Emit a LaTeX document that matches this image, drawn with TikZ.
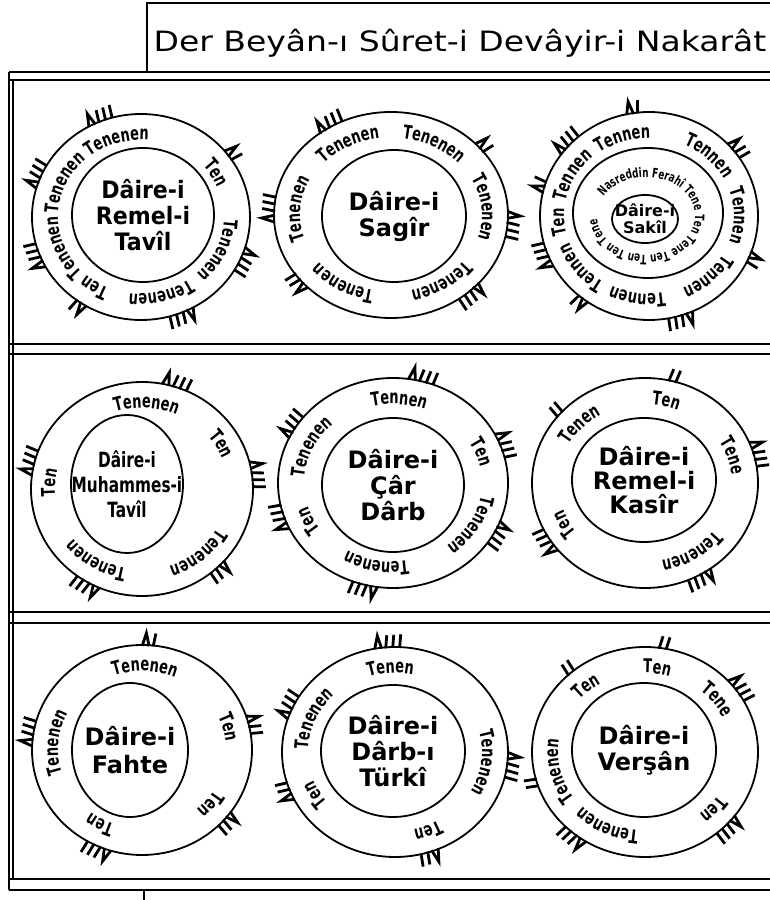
\documentclass[tikz,border=0pt]{standalone}
\usepackage{fontspec}
\setmainfont{DejaVu Sans}
\newfontfamily\halkafont{DejaVu Sans Bold}[FakeStretch=0.68]
\usetikzlibrary{decorations.text}

\newcommand{\halkayazi}{\halkafont\fontsize{19}{21}\selectfont}
% word on the ring, centred at angle #5 (cx, cy, rx, ry, angle, word)
\newcommand{\halka}[6]{%
  \path[decorate, decoration={text along path, text align=center, text={|\halkayazi|#6}}]
    ({#1+#3*cos(#5+45)},{#2+#4*sin(#5+45)}) arc[start angle={#5+45}, end angle={#5-45}, x radius=#3, y radius=#4];}
% stroke group outside the circle (cx, cy, rx, ry, angle, lambda 0/1, lines)
\newcommand{\usul}[7]{%
  \begin{scope}[shift={({#1+#3*cos(#5)},{#2+#4*sin(#5)})}, rotate={#5-90}]
    \pgfmathsetmacro{\bas}{-(#6*11+(#7-1)*7)/2}
    \ifnum#6=1
      \draw[vurus, line join=miter] (\bas,-1) -- ({\bas+3.5},12) -- ({\bas+7},-1);
      \pgfmathsetmacro{\bas}{\bas+11}
    \fi
    \foreach \i in {1,...,#7}
      \draw[vurus] ({\bas+(\i-1)*7},-1) -- ({\bas+(\i-1)*7+2},12);
  \end{scope}}

\begin{document}
\begin{tikzpicture}[x=1pt, y=1pt,
  cerceve/.style={line width=1.8pt},
  daire/.style={line width=1.8pt},
  vurus/.style={line width=2.8pt},
  ad/.style={align=center, inner sep=0pt, font=\bfseries\fontsize{24}{26}\selectfont}]
\useasboundingbox (0,0) rectangle (770,900);

% 1. frame and title
\draw[cerceve] (147,828) -- (147,897) -- (770,897);
\foreach \y in {828,820,556,546,288,277,21,10}
  \draw[cerceve] (9,\y) -- (770,\y);
\draw[cerceve] (9,828) -- (9,10);
\draw[cerceve] (13,820) -- (13,21);
\draw[cerceve] (144,10) -- (144,0);
\node[anchor=base, xscale=1.18, font=\fontsize{28}{30}\selectfont] (baslik) at (460,848) {Der Beyân-ı Sûret-i Devâyir-i Nakarât};

% 2. Dâire-i Remel-i Tavîl
\draw[daire] (141,683) ellipse[x radius=109, y radius=103];
\draw[daire] (143,685) ellipse[x radius=71, y radius=67];
\node[ad, xscale=0.92] (remeltavil) at (143,685) {Dâire-i\\Remel-i\\Tavîl};
\halka{141}{683}{83}{77}{237}{Ten}
\halka{141}{683}{83}{77}{202}{Tenenen}
\halka{141}{683}{83}{77}{155}{Tenenen}
\halka{141}{683}{83}{77}{107}{Tenenen}
\halka{141}{683}{83}{77}{31}{Ten}
\halka{141}{683}{83}{77}{336}{Tenenen}
\halka{141}{683}{83}{77}{284}{Tenenen}
\foreach \a/\l/\n in {112/1/3, 37/1/1, 157/1/3, 202/1/3, 237/1/1, 292/1/3, 336/1/3}
  \usul{141}{683}{109}{103}{\a}{\l}{\n};

% 3. Dâire-i Sagîr
\draw[daire] (391,685) ellipse[x radius=117, y radius=103];
\draw[daire] (394,684) ellipse[x radius=72, y radius=66];
\node[ad] (sagir) at (394,684) {Dâire-i\\Sagîr};
\halka{391}{685}{91}{77}{176}{Tenenen}
\halka{391}{685}{91}{77}{119}{Tenenen}
\halka{391}{685}{91}{77}{61}{Tenenen}
\halka{391}{685}{91}{77}{5}{Tenenen}
\halka{391}{685}{91}{77}{305}{Tenenen}
\halka{391}{685}{91}{77}{237}{Tenenen}
\foreach \a/\l/\n in {121/1/3, 41/1/1, 177/1/3, 355/1/3, 220/1/2, 312/1/3}
  \usul{391}{685}{117}{103}{\a}{\l}{\n};

% 4. Dâire-i Sakîl
\draw[daire] (649,684) ellipse[x radius=109, y radius=104];
\draw[daire] (648,687) ellipse[x radius=75, y radius=65];
\draw[daire] (645,681) ellipse[x radius=33, y radius=24];
\node[ad, font=\bfseries\fontsize{16}{17}\selectfont] (sakil) at (645,681) {Dâire-i\\Sakîl};
\halka{649}{684}{85}{78}{108}{Tennen}
\halka{649}{684}{85}{78}{151}{Tennen}
\halka{649}{684}{85}{78}{184}{Ten}
\halka{649}{684}{85}{78}{218}{Tennen}
\halka{649}{684}{85}{78}{262}{Tennen}
\halka{649}{684}{85}{78}{313}{Tennen}
\halka{649}{684}{85}{78}{0}{Tennen}
\halka{649}{684}{85}{78}{46}{Tennen}
\path[decorate, decoration={text along path, text={|\halkafont\fontsize{13}{15}\selectfont|Nasreddin Ferahî Tene Ten Tene Ten Ten Ten Tene}}]
  ({646+49*cos(150)},{684+39*sin(150)}) arc[start angle=150, end angle=-210, x radius=49, y radius=39];
\foreach \a/\l/\n in {99/1/1, 137/1/3, 164/1/1, 202/1/3, 233/1/1, 287/1/3, 337/1/1, 39/1/2}
  \usul{649}{684}{109}{104}{\a}{\l}{\n};

% 5. Dâire-i Muhammes-i Tavîl
\draw[daire] (142,411) ellipse[x radius=111, y radius=107];
\draw[daire] (127,416) ellipse[x radius=56, y radius=69];
\node[ad, xscale=0.73, font=\bfseries\fontsize{21}{25}\selectfont] (muhammes) at (127,416) {Dâire-i\\Muhammes-i\\Tavîl};
\halka{142}{411}{87}{81}{87}{Tenenen}
\halka{142}{411}{87}{81}{30}{Ten}
\halka{142}{411}{87}{81}{310}{Tenenen}
\halka{142}{411}{87}{81}{238}{Tenenen}
\halka{142}{411}{87}{81}{176}{Ten}
\foreach \a/\l/\n in {73/1/3, 166/1/3, 8/1/3, 241/1/3, 313/1/2}
  \usul{142}{411}{111}{107}{\a}{\l}{\n};

% 6. Dâire-i Çâr Dârb
\draw[daire] (393,417) ellipse[x radius=115, y radius=105];
\draw[daire] (393,415) ellipse[x radius=71, y radius=67];
\node[ad] (cardarb) at (393,415) {Dâire-i\\Çâr\\Dârb};
\halka{393}{417}{89}{79}{86}{Tennen}
\halka{393}{417}{89}{79}{155}{Tenenen}
\halka{393}{417}{89}{79}{20}{Ten}
\halka{393}{417}{89}{79}{330}{Tenenen}
\halka{393}{417}{89}{79}{259}{Tenenen}
\halka{393}{417}{89}{79}{205}{Ten}
\foreach \a/\l/\n in {76/1/3, 148/1/3, 21/1/3, 332/1/3, 199/1/3, 256/1/3}
  \usul{393}{417}{115}{105}{\a}{\l}{\n};

% 7. Dâire-i Remel-i Kasîr
\draw[daire] (645,417) ellipse[x radius=113, y radius=105];
\draw[daire] (644,420) ellipse[x radius=72, y radius=62];
\node[ad, font=\bfseries\fontsize{24}{24}\selectfont] (remelkasir) at (644,420) {Dâire-i\\Remel-i\\Kasîr};
\halka{645}{417}{87}{79}{76}{Ten}
\halka{645}{417}{87}{79}{137}{Tenen}
\halka{645}{417}{87}{79}{18}{Tene}
\halka{645}{417}{87}{79}{303}{Tenenen}
\halka{645}{417}{87}{79}{208}{Ten}
\foreach \a/\l/\n in {76/0/2, 139/0/2, 16/1/3, 213/1/3, 299/1/3}
  \usul{645}{417}{113}{105}{\a}{\l}{\n};

% 8. Dâire-i Fahte
\draw[daire] (142,150) ellipse[x radius=110, y radius=105];
\draw[daire] (130,150) ellipse[x radius=58, y radius=67];
\node[ad, font=\bfseries\fontsize{24}{28}\selectfont] (fahte) at (130,150) {Dâire-i\\Fahte};
\halka{142}{150}{84}{79}{88}{Tenenen}
\halka{142}{150}{84}{79}{175}{Tenenen}
\halka{142}{150}{84}{79}{15}{Ten}
\halka{142}{150}{84}{79}{321}{Ten}
\halka{142}{150}{84}{79}{241}{Ten}
\foreach \a/\l/\n in {87/1/1, 171/1/3, 14/1/2, 319/1/2, 247/1/3}
  \usul{142}{150}{110}{105}{\a}{\l}{\n};

% 9. Dâire-i Dârb-ı Türkî
\draw[daire] (395,148) ellipse[x radius=113, y radius=105];
\draw[daire] (393,149) ellipse[x radius=72, y radius=66];
\node[ad] (turki) at (393,149) {Dâire-i\\Dârb-ı\\Türkî};
\halka{395}{148}{87}{79}{93}{Tenen}
\halka{395}{148}{87}{79}{157}{Tenenen}
\halka{395}{148}{87}{79}{353}{Tenenen}
\halka{395}{148}{87}{79}{292}{Ten}
\halka{395}{148}{87}{79}{209}{Ten}
\foreach \a/\l/\n in {94/1/3, 155/1/3, 353/1/3, 202/1/2, 288/1/2}
  \usul{395}{148}{113}{105}{\a}{\l}{\n};

% 10. Dâire-i Verşân
\draw[daire] (645,148) ellipse[x radius=113, y radius=105];
\draw[daire] (644,150) ellipse[x radius=72, y radius=67];
\node[ad] (versan) at (644,150) {Dâire-i\\Verşân};
\halka{645}{148}{87}{79}{82}{Ten}
\halka{645}{148}{87}{79}{131}{Ten}
\halka{645}{148}{87}{79}{37}{Tene}
\halka{645}{148}{87}{79}{319}{Ten}
\halka{645}{148}{87}{79}{244}{Tenenen}
\halka{645}{148}{87}{79}{193}{Tenenen}
\foreach \a/\l/\n in {81/0/2, 131/0/2, 36/1/3, 316/1/3, 232/1/3, 197/0/2}
  \usul{645}{148}{113}{105}{\a}{\l}{\n};
\end{tikzpicture}
\end{document}
